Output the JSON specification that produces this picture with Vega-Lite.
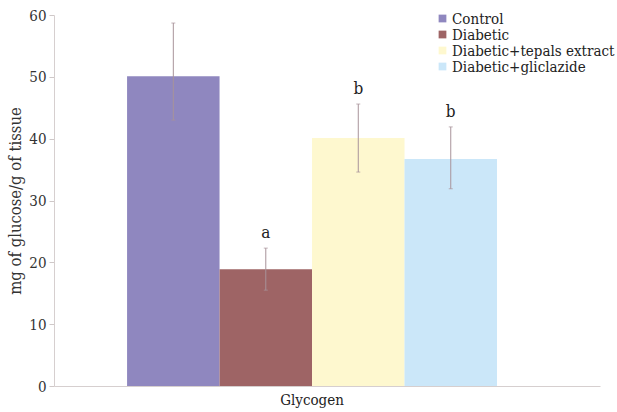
{
  "$schema": "https://vega.github.io/schema/vega-lite/v6.json",
  "width": 546,
  "height": 371,
  "autosize": {"type": "none"},
  "padding": {"left": 54, "top": 15, "right": 17, "bottom": 26},
  "background": "white",
  "config": {
    "font": "DejaVu Serif Condensed, DejaVu Serif",
    "view": {"stroke": null},
    "axis": {"labelFont": "DejaVu Serif Condensed, DejaVu Serif", "titleFont": "DejaVu Serif Condensed, DejaVu Serif", "labelColor": "#333333", "titleColor": "#333333"},
    "legend": {"labelFont": "DejaVu Serif Condensed, DejaVu Serif"},
    "text": {"font": "DejaVu Serif Condensed, DejaVu Serif"}
  },
  "data": {
    "values": [
      {"parameter": "Glycogen", "group": "Control", "value": 50.1, "lo": 43.0, "hi": 58.7, "letter": ""},
      {"parameter": "Glycogen", "group": "Diabetic", "value": 18.9, "lo": 15.5, "hi": 22.3, "letter": "a"},
      {"parameter": "Glycogen", "group": "Diabetic+tepals extract", "value": 40.1, "lo": 34.6, "hi": 45.6, "letter": "b"},
      {"parameter": "Glycogen", "group": "Diabetic+gliclazide", "value": 36.7, "lo": 31.9, "hi": 41.9, "letter": "b"}
    ]
  },
  "encoding": {
    "x": {
      "field": "parameter", "type": "nominal",
      "scale": {"paddingInner": 0, "paddingOuter": 0.238, "align": 0.415},
      "axis": {"title": null, "labelAngle": 0, "labelFontSize": 15, "labelPadding": 6, "labelDx": 7, "ticks": false, "domainColor": "#d6cfcf", "labelColor": "#222222"}
    },
    "xOffset": {
      "field": "group", "type": "nominal",
      "sort": ["Control", "Diabetic", "Diabetic+tepals extract", "Diabetic+gliclazide"],
      "scale": {"paddingInner": 0, "paddingOuter": 0}
    }
  },
  "layer": [
    {
      "mark": {"type": "bar"},
      "encoding": {
        "y": {
          "field": "value", "type": "quantitative",
          "scale": {"domain": [0, 60], "nice": false},
          "axis": {"title": "mg of glucose/g of tissue", "titleFontSize": 16.5, "titleFontWeight": "normal", "titlePadding": 5, "labelFontSize": 15, "values": [0, 10, 20, 30, 40, 50, 60], "grid": false, "tickSize": 5, "tickColor": "#cfc8c8", "domainColor": "#d6cfcf", "labelPadding": 3}
        },
        "color": {
          "field": "group", "type": "nominal",
          "sort": ["Control", "Diabetic", "Diabetic+tepals extract", "Diabetic+gliclazide"],
          "scale": {"domain": ["Control", "Diabetic", "Diabetic+tepals extract", "Diabetic+gliclazide"], "range": ["#8f87bf", "#9e6465", "#fef8cf", "#cbe7f9"]},
          "legend": {
            "title": null, "orient": "none", "legendX": 381, "legendY": -4,
            "symbolType": "square", "symbolSize": 60, "symbolStrokeWidth": 0,
            "labelFontSize": 15, "labelLimit": 0, "labelColor": "#222222", "labelOffset": 2, "rowPadding": 0
          }
        }
      }
    },
    {
      "mark": {"type": "rule", "color": "#a8939a", "strokeWidth": 1},
      "encoding": {
        "y": {"field": "lo", "type": "quantitative"},
        "y2": {"field": "hi"}
      }
    },
    {
      "mark": {"type": "tick", "color": "#a8939a", "size": 4, "thickness": 1},
      "encoding": {
        "y": {"field": "hi", "type": "quantitative"}
      }
    },
    {
      "mark": {"type": "tick", "color": "#a8939a", "size": 4, "thickness": 1},
      "encoding": {
        "y": {"field": "lo", "type": "quantitative"}
      }
    },
    {
      "mark": {"type": "text", "fontSize": 17, "color": "#222222", "baseline": "middle", "dy": -15},
      "encoding": {
        "y": {"field": "hi", "type": "quantitative"},
        "text": {"field": "letter"}
      }
    }
  ]
}
